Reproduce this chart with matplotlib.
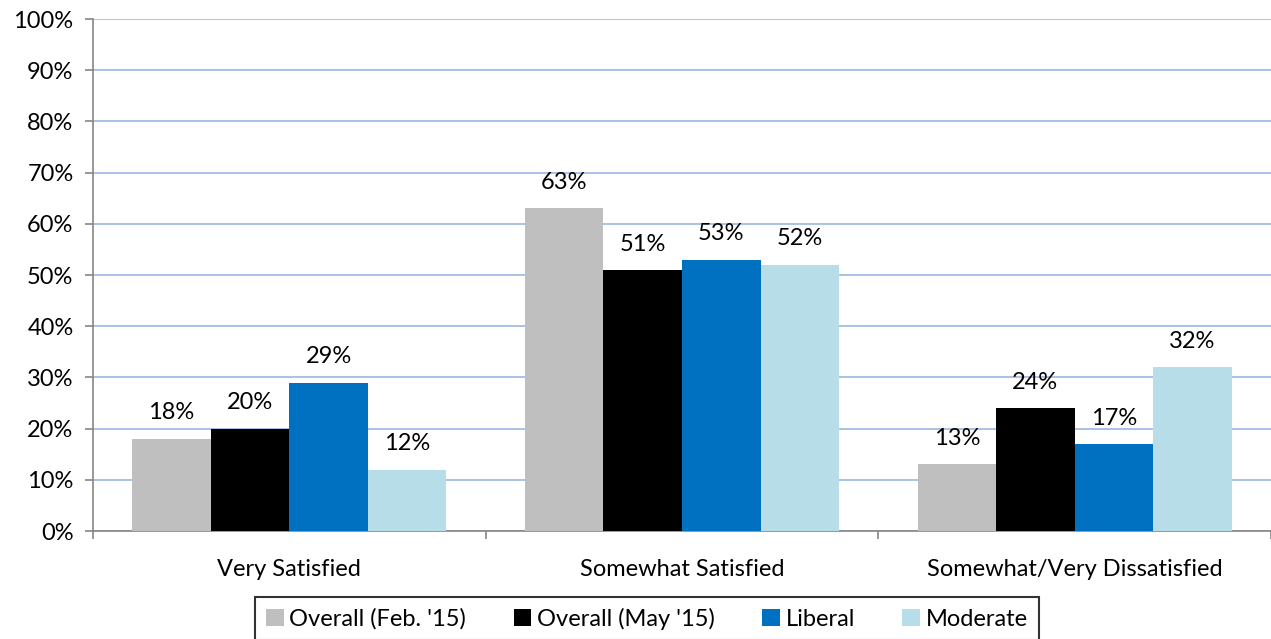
import matplotlib
matplotlib.use("Agg")
import matplotlib.pyplot as plt
import numpy as np
from matplotlib.ticker import FixedLocator

categories = ["Very Satisfied", "Somewhat Satisfied", "Somewhat/Very Dissatisfied"]
series_names = ["Overall (Feb. '15)", "Overall (May '15)", "Liberal", "Moderate"]
feb15 = [18, 63, 13]
may15 = [20, 51, 24]
liberal = [29, 53, 17]
moderate = [12, 52, 32]
yticks = [0, 10, 20, 30, 40, 50, 60, 70, 80, 90, 100]

colors = ["#BFBFBF", "#000000", "#0070C0", "#B7DEE8"]
series = [feb15, may15, liberal, moderate]

plt.rcParams['font.family'] = ['Lato', 'DejaVu Sans']
FS = 17

W, H = 1271, 639
fig = plt.figure(figsize=(W / 100, H / 100), dpi=100)
ax = fig.add_axes([93 / W, (H - 531) / H, (1271 - 93) / W, (531 - 19) / H])

x = np.arange(len(categories))
bw = 0.8 / 4
for i, (vals, c, name) in enumerate(zip(series, colors, series_names)):
    pos = x - 0.4 + bw * (i + 0.5)
    ax.bar(pos, vals, width=bw, color=c, label=name, zorder=3)
    for p, v in zip(pos, vals):
        ax.text(p, v + 3.0, f"{v}%", ha="center", va="bottom", fontsize=FS, color="#000000", zorder=4)

ax.set_xlim(-0.5, len(categories) - 0.5)
ax.set_ylim(0, 100)
ax.set_yticks(yticks)
ax.set_yticklabels([f"{t}%" for t in yticks], fontsize=FS)
ax.yaxis.grid(True, color="#9BB7E0", linewidth=1.2, zorder=0)
ax.set_axisbelow(True)

ax.set_xticks(x)
ax.set_xticklabels(categories, fontsize=FS)
ax.tick_params(axis="x", length=0, pad=20)
ax.xaxis.set_minor_locator(FixedLocator([-0.5, 0.5, 1.5, 2.5]))
ax.tick_params(axis="x", which="minor", length=6, color="#868686", width=1.2)
ax.tick_params(axis="y", length=6, color="#868686", width=1.2, pad=8)

for s in ["top", "right"]:
    ax.spines[s].set_visible(False)
for s in ["left", "bottom"]:
    ax.spines[s].set_color("#868686")
    ax.spines[s].set_linewidth(1.2)

leg = fig.legend(loc="upper center", bbox_to_anchor=(647 / W, (H - 597) / H), ncol=4, fontsize=FS,
                 frameon=True, fancybox=False, edgecolor="#000000", handlelength=0.75,
                 handleheight=0.75, handletextpad=0.25, columnspacing=2.0, borderpad=0.45,
                 borderaxespad=0)
leg.get_frame().set_linewidth(1.5)

fig.savefig("out.png", dpi=100)
